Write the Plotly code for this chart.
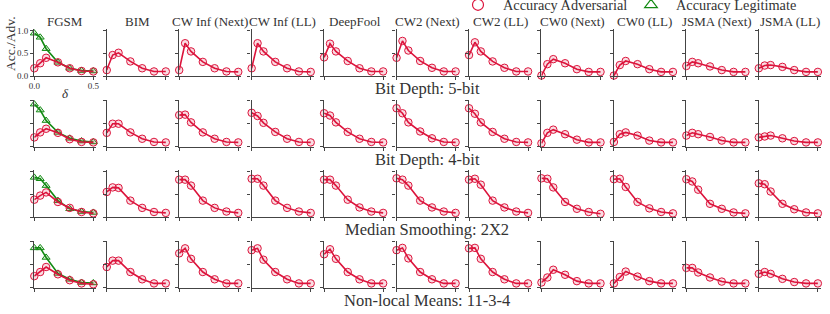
import plotly.graph_objects as go

# ---------------- data ----------------
delta = [0, 0.05, 0.1, 0.2, 0.3, 0.4, 0.5]
attacks = ["FGSM", "BIM", "CW Inf (Next)", "CW Inf (LL)", "DeepFool", "CW2 (Next)",
           "CW2 (LL)", "CW0 (Next)", "CW0 (LL)", "JSMA (Next)", "JSMA (LL)"]
squeezers = ["Bit Depth: 5-bit", "Bit Depth: 4-bit", "Median Smoothing: 2X2", "Non-local Means: 11-3-4"]

adv_bit5 = [
    [0.17, 0.28, 0.40, 0.30, 0.17, 0.11, 0.10],
    [0.13, 0.46, 0.51, 0.32, 0.17, 0.10, 0.10],
    [0.13, 0.72, 0.54, 0.31, 0.17, 0.10, 0.09],
    [0.17, 0.72, 0.54, 0.31, 0.17, 0.10, 0.09],
    [0.41, 0.71, 0.54, 0.33, 0.17, 0.10, 0.10],
    [0.40, 0.77, 0.56, 0.33, 0.18, 0.10, 0.10],
    [0.46, 0.74, 0.54, 0.32, 0.18, 0.10, 0.10],
    [0.01, 0.26, 0.37, 0.28, 0.15, 0.09, 0.09],
    [0.01, 0.24, 0.33, 0.26, 0.15, 0.09, 0.09],
    [0.22, 0.31, 0.28, 0.21, 0.13, 0.09, 0.09],
    [0.17, 0.23, 0.24, 0.20, 0.13, 0.09, 0.09],
]
adv_bit4 = [
    [0.20, 0.31, 0.39, 0.30, 0.16, 0.10, 0.09],
    [0.30, 0.50, 0.50, 0.31, 0.17, 0.10, 0.09],
    [0.69, 0.70, 0.53, 0.31, 0.17, 0.10, 0.09],
    [0.74, 0.67, 0.52, 0.32, 0.17, 0.10, 0.09],
    [0.73, 0.68, 0.53, 0.32, 0.17, 0.10, 0.09],
    [0.84, 0.73, 0.53, 0.33, 0.18, 0.10, 0.09],
    [0.84, 0.72, 0.53, 0.32, 0.17, 0.10, 0.09],
    [0.07, 0.30, 0.37, 0.27, 0.15, 0.09, 0.09],
    [0.10, 0.27, 0.31, 0.24, 0.13, 0.09, 0.09],
    [0.24, 0.30, 0.27, 0.21, 0.13, 0.09, 0.09],
    [0.20, 0.22, 0.24, 0.18, 0.12, 0.09, 0.09],
]
adv_median = [
    [0.38, 0.47, 0.54, 0.33, 0.20, 0.11, 0.08],
    [0.55, 0.65, 0.64, 0.36, 0.20, 0.11, 0.09],
    [0.82, 0.82, 0.69, 0.36, 0.20, 0.12, 0.09],
    [0.84, 0.84, 0.69, 0.36, 0.20, 0.12, 0.09],
    [0.82, 0.82, 0.69, 0.38, 0.21, 0.12, 0.09],
    [0.85, 0.82, 0.69, 0.36, 0.21, 0.12, 0.09],
    [0.82, 0.84, 0.71, 0.36, 0.21, 0.12, 0.09],
    [0.85, 0.84, 0.65, 0.33, 0.18, 0.11, 0.07],
    [0.83, 0.84, 0.66, 0.33, 0.19, 0.11, 0.08],
    [0.83, 0.78, 0.60, 0.29, 0.18, 0.10, 0.08],
    [0.74, 0.72, 0.56, 0.29, 0.17, 0.10, 0.08],
]
adv_nlm = [
    [0.25, 0.34, 0.45, 0.29, 0.16, 0.09, 0.07],
    [0.45, 0.59, 0.59, 0.34, 0.18, 0.09, 0.09],
    [0.75, 0.86, 0.63, 0.34, 0.18, 0.09, 0.09],
    [0.82, 0.86, 0.61, 0.34, 0.18, 0.09, 0.09],
    [0.73, 0.84, 0.63, 0.34, 0.18, 0.09, 0.09],
    [0.82, 0.87, 0.64, 0.34, 0.18, 0.09, 0.09],
    [0.86, 0.87, 0.63, 0.34, 0.18, 0.09, 0.09],
    [0.11, 0.22, 0.39, 0.28, 0.14, 0.09, 0.09],
    [0.09, 0.23, 0.35, 0.24, 0.14, 0.09, 0.09],
    [0.43, 0.43, 0.33, 0.22, 0.13, 0.09, 0.09],
    [0.30, 0.34, 0.30, 0.19, 0.12, 0.09, 0.09],
]
adversarial = [adv_bit5, adv_bit4, adv_median, adv_nlm]

# legitimate accuracy (FGSM column only)
legit = [
    [0.94, 0.85, 0.60, 0.30, 0.17, 0.12, 0.11],
    [0.93, 0.80, 0.57, 0.31, 0.18, 0.12, 0.10],
    [0.87, 0.84, 0.69, 0.36, 0.18, 0.12, 0.10],
    [0.87, 0.87, 0.66, 0.31, 0.18, 0.11, 0.10],
]

# ---------------- layout helpers ----------------
W, H = 830, 314
FONT = "Liberation Serif"
RED = "#dc143c"
GREEN = "#138a13"
AXC = "#444444"

col_left0, col_step, ax_w = 34.3, 72.45, 62.0
row_bot0, row_step, ax_h = 76.0, 70.5, 46.9
XMAX, YMAX = 0.525, 1.03

fig = go.Figure()
layout = dict(
    template="none",
    width=W, height=H,
    margin=dict(l=0, r=0, t=0, b=0, pad=0, autoexpand=False),
    paper_bgcolor="white", plot_bgcolor="white",
    font=dict(family=FONT, color="#222"),
    showlegend=True,
    legend=dict(orientation="h", x=(457 - 4) / W, y=1 + 11 / H, xanchor="left", yanchor="top",
                font=dict(family=FONT, size=14.3, color="#333"),
                entrywidth=118, entrywidthmode="pixels", itemwidth=40,
                bgcolor="rgba(0,0,0,0)", borderwidth=0, itemclick=False),
)
annotations = []

k = 0
for r in range(4):
    for c in range(11):
        k += 1
        xs = "" if k == 1 else str(k)
        L = col_left0 + col_step * c
        B = row_bot0 + row_step * r
        first = (r == 0 and c == 0)
        layout["xaxis" + xs] = dict(
            domain=[L / W, (L + ax_w) / W], range=[0, XMAX], anchor="y" + xs,
            showgrid=False, zeroline=False, showline=True, linecolor=AXC, linewidth=1.4,
            ticks="outside", ticklen=3, tickwidth=1, tickcolor=AXC, automargin=False,
            tickvals=[0, 0.5], ticktext=["0.0", "0.5"], showticklabels=first,
            ticklabelstandoff=-2,
            tickfont=dict(family=FONT, size=9, color="#333"), fixedrange=True,
        )
        layout["yaxis" + xs] = dict(
            domain=[1 - B / H, 1 - (B - ax_h) / H], range=[0, YMAX], anchor="x" + xs,
            showgrid=False, zeroline=False, showline=True, linecolor=AXC, linewidth=1.4,
            ticks="outside", ticklen=3, tickwidth=1, tickcolor=AXC, automargin=False,
            tickvals=[0, 0.5, 1.0], ticktext=["0.0", "0.5", "1.0"], showticklabels=first,
            tickfont=dict(family=FONT, size=9, color="#333"), fixedrange=True,
        )
        if c == 0:
            fig.add_trace(go.Scatter(
                x=delta, y=legit[r], mode="lines+markers", xaxis="x" + xs, yaxis="y" + xs,
                line=dict(color=GREEN, width=1.6), cliponaxis=False, showlegend=False,
                marker=dict(symbol="triangle-up", size=7, color="rgba(19,138,19,0.15)",
                            line=dict(color=GREEN, width=1)),
            ))
        fig.add_trace(go.Scatter(
            x=delta, y=adversarial[r][c], mode="lines+markers", xaxis="x" + xs, yaxis="y" + xs,
            line=dict(color=RED, width=1.6), cliponaxis=False, showlegend=False,
            marker=dict(symbol="circle", size=7.5, color="rgba(220,20,60,0.15)",
                        line=dict(color=RED, width=1)),
        ))
        if r == 0:
            annotations.append(dict(
                text=attacks[c], xref="paper", yref="paper",
                x=(L + 31) / W, y=1 - 22 / H, xanchor="center", yanchor="middle",
                showarrow=False, font=dict(family=FONT, size=13, color="#333")))
    annotations.append(dict(
        text=squeezers[r], xref="paper", yref="paper",
        x=427 / W, y=1 - (88.5 + row_step * r) / H, xanchor="center", yanchor="middle",
        showarrow=False, font=dict(family=FONT, size=16.5, color="#333")))

annotations.append(dict(text="Acc./Adv.", xref="paper", yref="paper", x=11 / W, y=1 - 44 / H,
                        xanchor="center", yanchor="middle", textangle=-90, showarrow=False,
                        font=dict(family=FONT, size=13.5, color="#333")))
annotations.append(dict(text="<i>δ</i>", xref="paper", yref="paper", x=65 / W, y=1 - 94 / H,
                        xanchor="center", yanchor="middle", showarrow=False,
                        font=dict(family=FONT, size=13, color="#333")))
layout["annotations"] = annotations

# legend entries
fig.add_trace(go.Scatter(x=[None], y=[None], mode="markers", name="Accuracy Adversarial",
                         marker=dict(symbol="circle-open", size=11, color=RED, line=dict(width=1.2))))
fig.add_trace(go.Scatter(x=[None], y=[None], mode="markers", name="Accuracy Legitimate",
                         marker=dict(symbol="triangle-up-open", size=11, color=GREEN, line=dict(width=1.2))))

fig.update_layout(**layout)
fig.write_html("out.html", config={"displayModeBar": False},
               post_script="document.body.style.margin='0px';")
